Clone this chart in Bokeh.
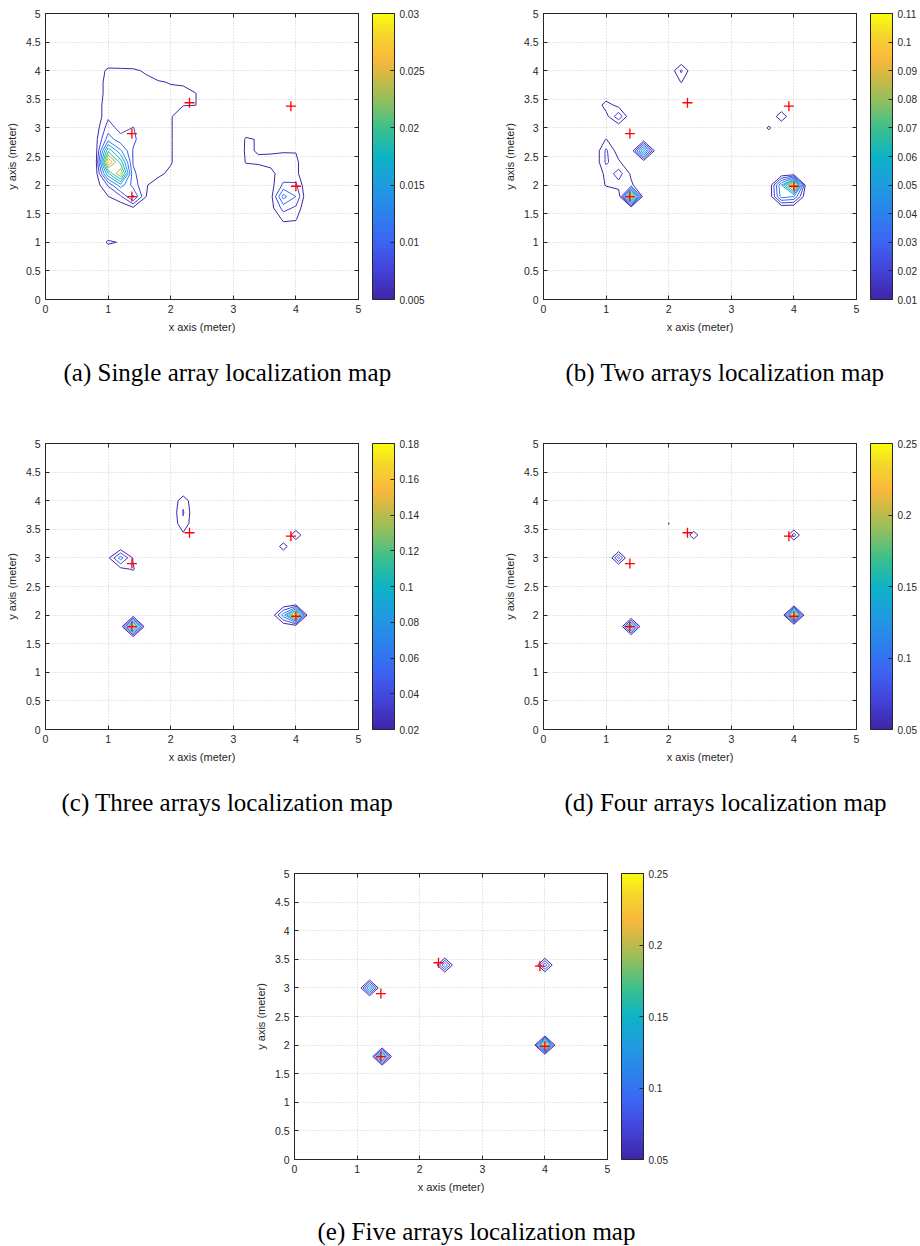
import numpy as np
from bokeh.plotting import figure
from bokeh.models import (LinearAxis, FixedTicker, CustomJSTickFormatter, ColorBar,
                          LinearColorMapper, Title, Label, Range1d, Spacer)
from bokeh.layouts import row, column
from bokeh.embed import file_html
from bokeh.resources import INLINE

# ---------------- data ----------------
grid_vals = [0.0, 0.2, 0.4, 0.6, 0.8, 1.0, 1.2, 1.4, 1.6, 1.8, 2.0, 2.2, 2.4,
             2.6, 2.8, 3.0, 3.2, 3.4, 3.6, 3.8, 4.0, 4.2, 4.4, 4.6, 4.8, 5.0]
x_ticks = [0, 1, 2, 3, 4, 5]
y_ticks = [0, 0.5, 1, 1.5, 2, 2.5, 3, 3.5, 4, 4.5, 5]

# true source positions (red +)
src_x = [1.38, 2.30, 3.92, 1.38, 4.00]
src_y = [2.90, 3.44, 3.38, 1.80, 1.98]

# (a) single array: grid values x1e-3
a_left_x = [0.8, 1.0, 1.2, 1.4, 1.6, 1.8, 2.0, 2.2, 2.4, 2.6]
a_left_y = [4.2, 4.0, 3.8, 3.6, 3.4, 3.2, 3.0, 2.8, 2.6, 2.4, 2.2, 2.0, 1.8, 1.6, 1.4]
a_left_z = [
    [0.0, 0.0, 0.0, 0.0, 0.0, 0.0, 0.0, 0.0, 0.0, 0.0],
    [0.5, 6.5, 6.3, 6.0, 4.3, 3.0, 2.5, 2.0, 1.0, 0.0],
    [2.0, 7.0, 7.0, 7.0, 6.5, 5.3, 4.8, 4.7, 3.0, 1.0],
    [2.0, 7.0, 7.0, 7.0, 6.5, 6.0, 5.8, 5.6, 5.1, 2.0],
    [3.0, 7.0, 7.0, 7.0, 6.5, 6.0, 5.8, 5.1, 5.05, 2.0],
    [3.0, 7.0, 7.0, 6.5, 6.0, 5.8, 5.2, 3.5, 3.0, 1.0],
    [3.5, 8.8, 6.5, 7.6, 6.0, 5.8, 5.2, 3.5, 2.0, 0.0],
    [4.0, 11.3, 8.5, 8.0, 6.0, 5.8, 5.2, 3.5, 2.0, 0.0],
    [3.5, 19.5, 13.0, 7.3, 6.0, 5.8, 5.2, 3.5, 2.0, 0.0],
    [3.5, 28.0, 19.0, 7.3, 6.0, 5.8, 5.2, 3.5, 2.0, 0.0],
    [3.5, 17.0, 25.5, 8.0, 5.8, 5.5, 4.5, 3.0, 1.5, 0.0],
    [3.5, 7.8, 14.0, 9.0, 5.2, 4.0, 3.0, 2.0, 1.0, 0.0],
    [2.0, 4.9, 7.0, 13.0, 5.1, 3.0, 2.0, 1.0, 0.0, 0.0],
    [1.0, 3.0, 3.0, 4.5, 3.0, 2.0, 1.0, 0.0, 0.0, 0.0],
    [0.0, 1.0, 0.5, 1.0, 0.0, 0.0, 0.0, 0.0, 0.0, 0.0],
]
a_right_x = [3.0, 3.2, 3.4, 3.6, 3.8, 4.0, 4.2, 4.4]
a_right_y = [3.2, 3.0, 2.8, 2.6, 2.4, 2.2, 2.0, 1.8, 1.6, 1.4, 1.2, 1.0]
a_right_z = [
    [0.0, 2.0, 2.0, 1.0, 1.0, 1.0, 0.0, 0.0],
    [2.0, 4.0, 3.5, 2.0, 2.0, 2.0, 1.0, 0.0],
    [3.0, 5.2, 4.9, 3.5, 3.0, 3.0, 1.5, 0.0],
    [3.5, 5.2, 4.9, 4.8, 4.8, 4.8, 2.0, 0.0],
    [3.0, 5.1, 5.2, 5.5, 6.0, 5.8, 2.0, 0.0],
    [2.0, 4.0, 4.2, 4.5, 6.0, 5.8, 2.0, 0.0],
    [1.0, 2.0, 3.0, 4.0, 8.0, 8.0, 2.0, 0.0],
    [0.0, 1.0, 2.0, 4.0, 13.5, 10.0, 2.0, 0.0],
    [0.0, 0.0, 1.0, 4.0, 8.5, 7.0, 2.0, 0.0],
    [0.0, 0.0, 0.0, 2.0, 5.5, 5.2, 1.5, 0.0],
    [0.0, 0.0, 0.0, 1.0, 3.0, 3.0, 1.0, 0.0],
    [0.0, 0.0, 0.0, 0.0, 0.0, 0.0, 0.0, 0.0],
]
a_pt_x = [1.0, 1.2]
a_pt_y = [1.0, 1.0]
a_pt_v = [6.0, 4.5]
a_levels = [0.005, 0.0075, 0.01, 0.0125, 0.015, 0.0175, 0.02, 0.0225, 0.025, 0.0275, 0.03]
a_cb_ticks = [0.005, 0.01, 0.015, 0.02, 0.025, 0.03]

# (b) two arrays
b_pt_x = [1.4, 4.0, 3.8, 3.8, 4.0, 1.6, 2.2, 2.2, 1.2, 1.0, 1.2, 1.0, 1.0, 1.0, 1.0, 1.0,
          1.0, 1.2, 1.2, 1.2, 1.2, 1.4, 1.4, 3.6, 3.8]
b_pt_y = [1.8, 2.0, 2.0, 1.8, 1.8, 2.6, 4.0, 3.8, 3.2, 3.4, 3.4, 3.2, 2.8, 2.6, 2.4, 2.2,
          2.0, 2.2, 2.4, 2.0, 2.6, 2.2, 2.0, 3.0, 3.2]
b_pt_v = [100, 105, 50, 45, 40, 65, 22, 10.5, 28, 15, 6, 6, 10.5, 22, 22, 13,
          11, 25, 12, 16, 4, 8, 12, 11.8, 17]
b_levels = [0.01, 0.02, 0.03, 0.04, 0.05, 0.06, 0.07, 0.08, 0.09, 0.10, 0.11]
b_cb_ticks = [0.01, 0.02, 0.03, 0.04, 0.05, 0.06, 0.07, 0.08, 0.09, 0.1, 0.11]

# (c) three arrays
c_pt_x = [1.4, 4.0, 3.8, 1.2, 1.0, 1.4, 1.2, 1.4, 2.2, 2.2, 2.2, 2.2, 3.8, 4.0]
c_pt_y = [1.8, 2.0, 2.0, 3.0, 3.0, 3.0, 2.8, 2.8, 3.8, 4.0, 3.6, 3.4, 3.2, 3.4]
c_pt_v = [160, 180, 70, 70, 15, 18, 12, 22, 42, 34, 36, 15, 29, 33]
c_levels = [0.02, 0.04, 0.06, 0.08, 0.10, 0.12, 0.14, 0.16, 0.18]
c_cb_ticks = [0.02, 0.04, 0.06, 0.08, 0.1, 0.12, 0.14, 0.16, 0.18]

# (d) four arrays
d_pt_x = [4.0, 1.4, 1.2, 2.4, 4.0, 2.0]
d_pt_y = [2.0, 1.8, 3.0, 3.4, 3.4, 3.6]
d_pt_v = [250, 170, 110, 74, 89, 53]
d_levels = [0.05, 0.075, 0.10, 0.125, 0.15, 0.175, 0.20, 0.225, 0.25]
d_cb_ticks = [0.05, 0.1, 0.15, 0.2, 0.25]

# (e) five arrays
e_pt_x = [4.0, 1.4, 1.2, 2.4, 4.0]
e_pt_y = [2.0, 1.8, 3.0, 3.4, 3.4]
e_pt_v = [250, 200, 160, 128, 120]
e_levels = [0.05, 0.075, 0.10, 0.125, 0.15, 0.175, 0.20, 0.225, 0.25]
e_cb_ticks = [0.05, 0.1, 0.15, 0.2, 0.25]

captions = ["(a) Single array localization map", "(b) Two arrays localization map",
            "(c) Three arrays localization map", "(d) Four arrays localization map",
            "(e) Five arrays localization map"]

# ---------------- style ----------------
PARULA_POS = [0.00, 0.10, 0.20, 0.30, 0.40, 0.50, 0.60, 0.70, 0.78, 0.84, 0.92, 1.00]
PARULA_HEX = ["#3e26a8", "#4343d8", "#3d64f4", "#2c82ec", "#1f9ce0", "#0db4c6",
              "#3cc08c", "#94bf5c", "#d1b944", "#fbb83c", "#f5d42e", "#f9fb0e"]
AX = "#262626"
SANS = "Liberation Sans"
SERIF = "Liberation Serif"
CAP_SIZE = "25px"


def _rgb(h):
    return [int(h[i:i + 2], 16) for i in (1, 3, 5)]


_ANCH = np.array([_rgb(h) for h in PARULA_HEX], dtype=float)


def parula(t):
    t = min(max(t, 0.0), 1.0)
    c = [np.interp(t, PARULA_POS, _ANCH[:, k]) for k in range(3)]
    return "#%02x%02x%02x" % tuple(int(round(v)) for v in c)


PALETTE = [parula(i / 255) for i in range(256)]
IDX = {round(v, 1): i for i, v in enumerate(grid_vals)}


def build_field(px=(), py=(), pv=(), patches=()):
    Z = np.zeros((len(grid_vals), len(grid_vals)))
    for xs, ys, mat in patches:
        for r, yv in enumerate(ys):
            for c, xv in enumerate(xs):
                Z[IDX[round(yv, 1)], IDX[round(xv, 1)]] = mat[r][c] * 1e-3
    for xv, yv, v in zip(px, py, pv):
        Z[IDX[round(yv, 1)], IDX[round(xv, 1)]] = v * 1e-3
    return Z


fmt_js = "return String(Number(tick.toPrecision(6)));"


def make_panel(Z, levels, cb_ticks, caption, cap_offset, width, height, left, right, top, bottom):
    p = figure(width=width, height=height, x_range=Range1d(0, 5), y_range=Range1d(0, 5),
               output_backend="svg", toolbar_location=None,
               min_border_left=left, min_border_right=right,
               min_border_top=top, min_border_bottom=bottom,
               x_axis_label="x axis (meter)", y_axis_label="y axis (meter)")
    p.outline_line_color = AX
    p.outline_line_width = 1
    p.background_fill_color = "white"
    p.border_fill_color = "white"
    p.xaxis.ticker = FixedTicker(ticks=x_ticks)
    p.yaxis.ticker = FixedTicker(ticks=y_ticks)
    p.xgrid.ticker = FixedTicker(ticks=x_ticks)
    p.ygrid.ticker = FixedTicker(ticks=y_ticks)
    for g in (p.xgrid[0], p.ygrid[0]):
        g.grid_line_color = "#cdcdcd"
        g.grid_line_dash = "1 2"
        g.grid_line_width = 1
    for ax in (p.xaxis[0], p.yaxis[0]):
        ax.formatter = CustomJSTickFormatter(code=fmt_js)
        ax.major_tick_in = 4
        ax.major_tick_out = 0
        ax.minor_tick_line_color = None
        ax.axis_line_color = AX
        ax.major_tick_line_color = AX
        ax.major_label_text_font = SANS
        ax.major_label_text_font_size = "10.5px"
        ax.major_label_text_color = AX
        ax.axis_label_text_font = SANS
        ax.axis_label_text_font_size = "11px"
        ax.axis_label_text_font_style = "normal"
        ax.axis_label_text_color = AX
        ax.major_label_standoff = 5
        ax.axis_label_standoff = 5
    for tks, side in ((x_ticks, "above"), (y_ticks, "right")):
        ax2 = LinearAxis(ticker=FixedTicker(ticks=tks),
                         formatter=CustomJSTickFormatter(code="return '';"),
                         major_tick_in=4, major_tick_out=0, minor_tick_line_color=None,
                         axis_line_color=AX, major_tick_line_color=AX,
                         major_label_standoff=0, major_label_text_font_size="1px")
        p.add_layout(ax2, side)

    X, Y = np.meshgrid(np.array(grid_vals), np.array(grid_vals))
    low, high = cb_ticks[0], cb_ticks[-1]
    line_cols = [parula((L - low) / (high - low)) for L in levels]
    p.contour(X, Y, Z, levels, line_color=line_cols, line_width=1)
    p.scatter(src_x, src_y, marker="cross", size=10, line_color="#ff0000", line_width=1.3)

    mapper = LinearColorMapper(palette=PALETTE, low=low, high=high)
    cb = ColorBar(color_mapper=mapper, ticker=FixedTicker(ticks=cb_ticks),
                  formatter=CustomJSTickFormatter(code=fmt_js),
                  width=22, height=286, padding=0, margin=0, location=(14, 0),
                  label_standoff=5, major_label_text_font=SANS,
                  major_label_text_font_size="10px", major_label_text_color=AX,
                  major_tick_in=4, major_tick_out=0, major_tick_line_color=AX,
                  minor_tick_line_color=None,
                  bar_line_color=AX, bar_line_width=1, border_line_color=None,
                  background_fill_color=None)
    p.add_layout(cb, "right")

    if caption is not None:
        cap = Title(text=caption, align="left", offset=cap_offset, vertical_align="middle",
                    standoff=44, text_font=SERIF, text_font_size=CAP_SIZE,
                    text_font_style="normal", text_color="black")
        p.add_layout(cap, "below")
    return p


def caption_strip(text, width, height, cx, cy):
    c = figure(width=width, height=height, x_range=Range1d(0, 1), y_range=Range1d(0, 1),
               output_backend="svg", toolbar_location=None,
               x_axis_location=None, y_axis_location=None,
               min_border_left=0, min_border_right=0, min_border_top=0, min_border_bottom=0)
    c.outline_line_color = None
    c.xgrid.visible = False
    c.ygrid.visible = False
    c.add_layout(Label(x=cx, y=cy, x_units="screen", y_units="screen", text=text,
                       text_align="center", text_baseline="middle", text_font=SERIF,
                       text_font_size=CAP_SIZE, text_color="black"))
    return c


Za = build_field(a_pt_x, a_pt_y, a_pt_v,
                 patches=[(a_left_x, a_left_y, a_left_z), (a_right_x, a_right_y, a_right_z)])
Zb = build_field(b_pt_x, b_pt_y, b_pt_v)
Zc = build_field(c_pt_x, c_pt_y, c_pt_v)
Zd = build_field(d_pt_x, d_pt_y, d_pt_v)
Ze = build_field(e_pt_x, e_pt_y, e_pt_v)

pa = make_panel(Za, a_levels, a_cb_ticks, captions[0], 18, 456, 430, 45, 98, 13, 131)
pb = make_panel(Zb, b_levels, b_cb_ticks, captions[1], 22, 464, 430, 87, 64, 13, 131)
pc = make_panel(Zc, c_levels, c_cb_ticks, captions[2], 16, 456, 430, 45, 98, 13, 131)
pd = make_panel(Zd, d_levels, d_cb_ticks, captions[3], 21, 464, 430, 87, 64, 13, 131)
pe = make_panel(Ze, e_levels, e_cb_ticks, None, 0, 456, 339, 45, 98, 13, 40)
cap_e = caption_strip(captions[4], 920, 47, 476, 15)

layout = column(row(pa, pb), row(pc, pd),
                row(Spacer(width=249, height=339), pe), cap_e)
open("out.html", "w").write(file_html(layout, INLINE))
